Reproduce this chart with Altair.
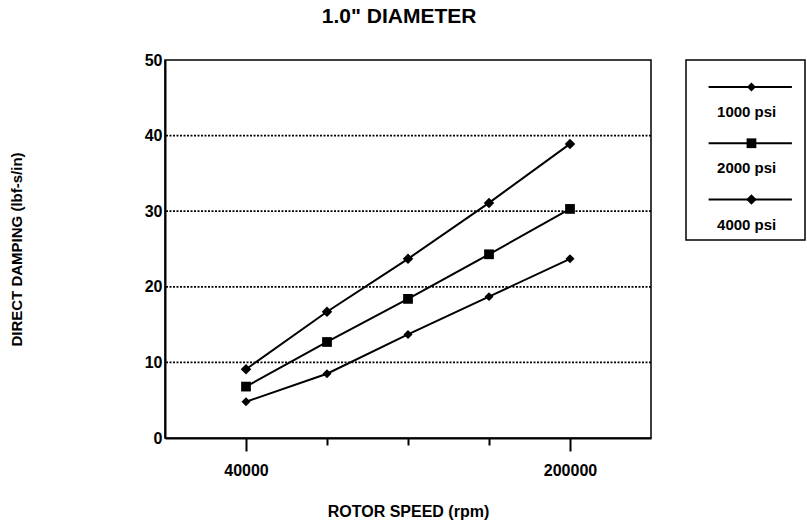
import altair as alt
import pandas as pd

# Rotor speed (rpm) and direct damping (lbf-s/in) for each supply pressure
speeds = [40000, 80000, 120000, 160000, 200000]
damping_1000 = [4.8, 8.5, 13.7, 18.7, 23.7]
damping_2000 = [6.8, 12.7, 18.4, 24.3, 30.3]
damping_4000 = [9.1, 16.7, 23.7, 31.1, 38.9]

series_names = ["1000 psi", "2000 psi", "4000 psi"]
series_shapes = ["diamond", "square", "diamond"]
series_sizes = [80, 110, 70]

grid_levels = [10, 20, 30, 40]
y_ticks = [0, 10, 20, 30, 40, 50]
x_labeled = [40000, 200000]

FONT = "Liberation Sans"

rows = []
for name, vals in zip(series_names, [damping_1000, damping_2000, damping_4000]):
    for s, v in zip(speeds, vals):
        rows.append({"series": name, "speed": s, "damping": v})
df = pd.DataFrame(rows)

grid_df = pd.DataFrame({"level": grid_levels})
legend_df = pd.DataFrame({"series": series_names, "row": [0, 1, 2]})

shape_scale = alt.Scale(domain=series_names, range=series_shapes)
size_scale = alt.Scale(domain=series_names, range=series_sizes)

label_test = " || ".join(f"datum.value == {v}" for v in x_labeled)

x_enc = alt.X(
    "speed:Q",
    scale=alt.Scale(domain=[0, 240000], nice=False, zero=False),
    axis=alt.Axis(
        values=speeds,
        format="d",
        labelExpr=f"({label_test}) ? datum.label : ''",
        tickSize={"condition": {"test": label_test, "value": 13}, "value": 7},
        tickColor="black",
        tickWidth=2,
        labelPadding=11,
        labelFontSize=16,
        labelFont=FONT,
        labelFontWeight="bold",
        labelColor="black",
        domainColor="black",
        domainWidth=2,
        grid=False,
        title="ROTOR SPEED (rpm)",
        titleFont=FONT,
        titleFontSize=16,
        titleFontWeight="bold",
        titleColor="black",
        titlePadding=25,
    ),
)

y_enc = alt.Y(
    "damping:Q",
    scale=alt.Scale(domain=[0, 50], nice=False),
    axis=alt.Axis(
        values=y_ticks,
        ticks=False,
        labelPadding=3,
        labelFontSize=16,
        labelFont=FONT,
        labelFontWeight="bold",
        labelColor="black",
        domainColor="black",
        domainWidth=2,
        grid=False,
        title="DIRECT DAMPING (lbf-s/in)",
        titleFont=FONT,
        titleFontSize=15,
        titleFontWeight="bold",
        titleColor="black",
        titlePadding=120,
    ),
)

gridlines = alt.Chart(grid_df).mark_rule(
    color="black", strokeWidth=1.8, strokeDash=[2, 1.5]
).encode(y=alt.Y("level:Q"))

lines = alt.Chart(df).mark_line(color="black", strokeWidth=2).encode(
    x=x_enc, y=y_enc, detail="series:N"
)

points = alt.Chart(df).mark_point(filled=True, color="black", opacity=1).encode(
    x="speed:Q",
    y="damping:Q",
    shape=alt.Shape("series:N", scale=shape_scale, legend=None),
    size=alt.Size("series:N", scale=size_scale, legend=None),
)

main = alt.layer(lines, gridlines, points).properties(width=486, height=378)

# Boxed key: a short line with the marker, and the pressure written under it
leg_x = alt.Scale(domain=[0, 1])
leg_y = alt.Scale(domain=[-0.48, 2.72], reverse=True)

key_lines = alt.Chart(legend_df).mark_rule(color="black", strokeWidth=2).encode(
    x=alt.datum(0.19, scale=leg_x, axis=None),
    x2=alt.datum(0.89),
    y=alt.Y("row:Q", scale=leg_y, axis=None),
)
key_points = alt.Chart(legend_df).mark_point(filled=True, color="black", opacity=1).encode(
    x=alt.datum(0.55, scale=leg_x, axis=None),
    y=alt.Y("row:Q", scale=leg_y, axis=None),
    shape=alt.Shape("series:N", scale=shape_scale, legend=None),
    size=alt.Size("series:N", scale=size_scale, legend=None),
)
key_text = alt.Chart(legend_df).mark_text(
    font=FONT, fontSize=15, fontWeight="bold", color="black", yOffset=25
).encode(
    x=alt.datum(0.51, scale=leg_x, axis=None),
    y=alt.Y("row:Q", scale=leg_y, axis=None),
    text="series:N",
)

key = alt.layer(key_lines, key_points, key_text).properties(width=119, height=180)

chart = (
    alt.hconcat(main, key, spacing=35, bounds="flush")
    .properties(
        title=alt.TitleParams(
            text='1.0" DIAMETER',
            font=FONT,
            fontSize=21,
            fontWeight="bold",
            color="black",
            anchor="middle",
            offset=24,
            dx=-8,
        ),
        padding={"left": 8, "top": 6, "right": 0, "bottom": 5},
        background="white",
    )
    .configure_view(stroke="black", strokeWidth=1.5)
)

chart.save("out.html", embed_options={"renderer": "svg", "actions": False})
